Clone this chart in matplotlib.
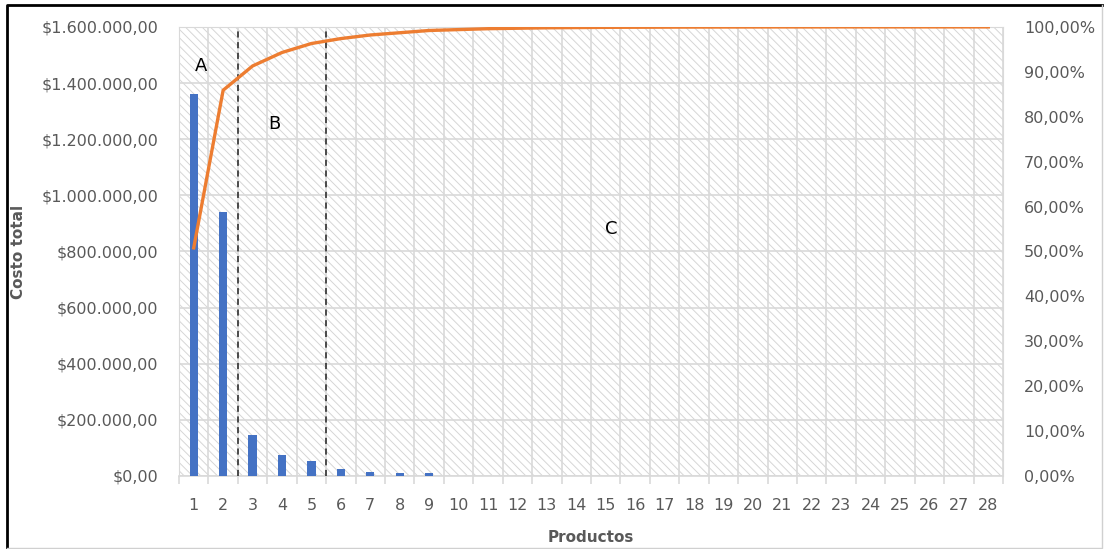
import matplotlib
matplotlib.use("Agg")
import matplotlib.pyplot as plt
import numpy as np
from matplotlib.lines import Line2D
from matplotlib.patches import Rectangle
from matplotlib.ticker import FixedLocator, FuncFormatter

# Pareto ABC de productos
productos = list(range(1, 29))
costo = [1361000, 941000, 146000, 75000, 53000, 25000, 14000, 11000, 10000,
         1500, 1200, 1000, 800, 600, 500, 400, 300, 250, 200, 150,
         120, 100, 80, 60, 50, 40, 30, 20]
acumulado = [50.8, 85.9, 91.3, 94.3, 96.3, 97.4, 98.2, 98.7, 99.2, 99.4,
             99.6, 99.7, 99.8, 99.85, 99.9, 99.92, 99.94, 99.96, 99.97, 99.98,
             99.99, 99.99, 100, 100, 100, 100, 100, 100]
cortes = [2.5, 5.5]
zonas = [("A", 1.25, 1460000), ("B", 3.75, 1255000), ("C", 15.2, 880000)]

GRAY = "#595959"
GRID = "#D9D9D9"
plt.rcParams["font.family"] = "DejaVu Sans"
plt.rcParams["hatch.linewidth"] = 0.7


def pesos(v, _):
    s = f"${v:,.2f}"
    return s.replace(",", "#").replace(".", ",").replace("#", ".")


def pct(v, _):
    return f"{v * 100:.2f}%".replace(".", ",")


fig = plt.figure(figsize=(11.05, 5.49), dpi=100)
ax = fig.add_axes([0.162, 0.133, 0.7457, 0.818])

# hatched plot area
ax.add_patch(Rectangle((0, 0), 1, 1, transform=ax.transAxes, facecolor="white",
                       edgecolor="#D6D6D6", hatch="\\\\\\\\", lw=0, zorder=0))

ax.bar(productos, costo, width=0.28, color="#4472C4", zorder=3)
ax.set_xlim(0.5, 28.5)
ax.set_ylim(0, 1600000)
ax.set_yticks(np.arange(0, 1600001, 200000))
ax.yaxis.set_major_formatter(FuncFormatter(pesos))
ax.set_xticks(productos)
ax.xaxis.set_minor_locator(FixedLocator(np.arange(0.5, 28.6, 1)))
ax.grid(True, which="minor", axis="x", color=GRID, lw=1.2, zorder=1)
ax.grid(True, which="major", axis="y", color=GRID, lw=1.2, zorder=1)
ax.tick_params(axis="x", which="major", length=0, pad=16, labelsize=11.5, labelcolor=GRAY)
ax.tick_params(axis="x", which="minor", length=6, color=GRID, width=1.2)
ax.tick_params(axis="y", length=0, pad=15, labelsize=11.5, labelcolor=GRAY)
for side in ["left", "right", "top", "bottom"]:
    ax.spines[side].set_color(GRID)
ax.spines["bottom"].set_linewidth(1.2)
ax.set_axisbelow(True)

ax.set_ylabel("Costo total", fontsize=11, fontweight="bold", color=GRAY, va="center")
ax.yaxis.set_label_coords(-0.195, 0.5)
ax.set_xlabel("Productos", fontsize=11, fontweight="bold", color=GRAY, va="center")
ax.xaxis.set_label_coords(0.5, -0.136)

ax2 = ax.twinx()
ax2.plot(productos, np.array(acumulado) / 100, color="#ED7D31", lw=2.4,
         solid_joinstyle="miter", zorder=4)
ax2.set_ylim(0, 1)
ax2.set_yticks(np.arange(0, 1.001, 0.1))
ax2.yaxis.set_major_formatter(FuncFormatter(pct))
ax2.tick_params(axis="y", length=0, pad=15, labelsize=11.5, labelcolor=GRAY)
for side in ["left", "right", "top", "bottom"]:
    ax2.spines[side].set_visible(False)

for c in cortes:
    ax.axvline(c, color="#222222", ls=(0, (4, 3)), lw=1.1, zorder=5)
for letra, x, y in zonas:
    ax.text(x, y, letra, fontsize=13, ha="center", va="center", color="black", zorder=6)

# outer frame: dark top/left, light right/bottom
x0, x1, y0, y1 = 0.0065, 0.9975, 0.002, 0.991
fig.add_artist(Line2D([x0, x0, x1], [y0, y1, y1], transform=fig.transFigure,
                      color="black", lw=2))
fig.add_artist(Line2D([x0, x1, x1], [y0, y0, y1], transform=fig.transFigure,
                      color="#D0D0D0", lw=1))

fig.savefig("out.png", dpi=100)
